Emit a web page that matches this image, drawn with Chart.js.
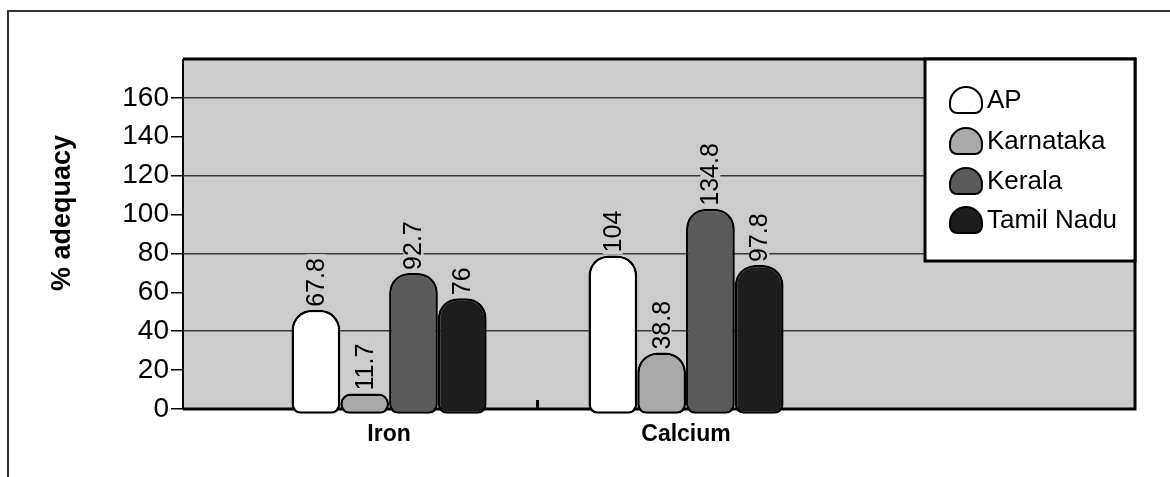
<!DOCTYPE html>
<html>
<head>
<meta charset="utf-8">
<script src="https://cdn.jsdelivr.net/npm/chart.js@4.4.0/dist/chart.umd.min.js"></script>
<style>
  html, body { margin: 0; padding: 0; background: #fff; }
  #wrap { position: relative; width: 1170px; height: 477px; overflow: hidden; }
  #frame { position: absolute; left: 7px; top: 10px; width: 1300px; height: 600px;
           border-left: 2px solid #333; border-top: 2px solid #333; }
  canvas { position: absolute; left: 0; top: 0; }
</style>
</head>
<body>
<div id="wrap">
  <div id="frame"></div>
  <canvas id="chart" width="1170" height="477"></canvas>
</div>
<script>
// Categories and series.
const nutrients = ['Iron', 'Calcium'];
const states = ['AP', 'Karnataka', 'Kerala', 'Tamil Nadu'];

// Bar heights as drawn in the picture.
const apHeights = [51, 79];
const karnatakaHeights = [8, 29];
const keralaHeights = [70, 103];
const tamilNaduHeights = [57, 74];

// Values printed on top of the bars.
const apLabels = ['67.8', '104'];
const karnatakaLabels = ['11.7', '38.8'];
const keralaLabels = ['92.7', '134.8'];
const tamilNaduLabels = ['76', '97.8'];

const yTickValues = [0, 20, 40, 60, 80, 100, 120, 140, 160];

const fills = ['#ffffff', '#a9a9a9', '#5b5b5b', '#1d1d1d'];
const regular = '"Liberation Sans", Arial, sans-serif';

const heights = [apHeights, karnatakaHeights, keralaHeights, tamilNaduHeights];
const printed = [apLabels, karnatakaLabels, keralaLabels, tamilNaduLabels];

const datasets = states.map((s, i) => ({
  label: s,
  data: heights[i].map((v, j) => ({ x: j + 1, y: v })),
  backgroundColor: fills[i],
  borderColor: '#000',
  borderWidth: 2.5,
  borderSkipped: false,
  borderRadius: { topLeft: 20, topRight: 20, bottomLeft: 9, bottomRight: 9 },
  base: -2.5,
  clip: false,
  barPercentage: 1.0,
  categoryPercentage: 0.657
}));

// Grey plot area, its frame and the y axis title.
const plotFrame = {
  id: 'plotFrame',
  beforeDraw(chart) {
    const { ctx, chartArea: a } = chart;
    ctx.save();
    ctx.fillStyle = '#cccccc';
    ctx.fillRect(a.left, a.top, a.right - a.left, a.bottom - a.top);
    ctx.restore();
  },
  beforeDatasetsDraw(chart) {
    const { ctx, chartArea: a, scales } = chart;
    ctx.save();
    ctx.strokeStyle = '#000';
    ctx.lineWidth = 3;
    ctx.beginPath();
    ctx.moveTo(a.left, a.top);
    ctx.lineTo(a.right, a.top);
    ctx.lineTo(a.right, a.bottom);
    ctx.lineTo(a.left, a.bottom);
    ctx.stroke();
    ctx.lineWidth = 2;
    ctx.beginPath();
    ctx.moveTo(a.left, a.top);
    ctx.lineTo(a.left, a.bottom);
    ctx.stroke();
    // divider tick between the two categories
    const xMid = scales.x.getPixelForValue(1.5);
    ctx.lineWidth = 3;
    ctx.beginPath();
    ctx.moveTo(xMid, a.bottom);
    ctx.lineTo(xMid, a.bottom - 9);
    ctx.stroke();
    // y axis title
    ctx.translate(63, 213);
    ctx.rotate(-Math.PI / 2);
    ctx.font = 'bold 27px ' + regular;
    ctx.fillStyle = '#000';
    ctx.textAlign = 'center';
    ctx.textBaseline = 'middle';
    ctx.fillText('% adequacy', 0, 0);
    ctx.restore();
  }
};

// Rotated values above each bar, and the legend box.
const labelsAndLegend = {
  id: 'labelsAndLegend',
  afterDatasetsDraw(chart) {
    const { ctx, chartArea: a } = chart;
    ctx.save();
    ctx.font = '25px ' + regular;
    chart.data.datasets.forEach((ds, i) => {
      chart.getDatasetMeta(i).data.forEach((bar, j) => {
        const txt = printed[i][j];
        const w = ctx.measureText(txt).width;
        ctx.save();
        ctx.translate(bar.x, bar.y - 3);
        ctx.rotate(-Math.PI / 2);
        ctx.fillStyle = '#cccccc';
        ctx.fillRect(-2, -10, w + 6, 20);
        ctx.fillStyle = '#000';
        ctx.textAlign = 'left';
        ctx.textBaseline = 'middle';
        ctx.fillText(txt, 0, 1);
        ctx.restore();
      });
    });

    // legend
    const lx = a.right - 210, ly = a.top, lw = 210, lh = 202;
    ctx.fillStyle = '#fff';
    ctx.fillRect(lx, ly, lw, lh);
    ctx.strokeStyle = '#000';
    ctx.lineWidth = 3;
    ctx.strokeRect(lx, ly, lw, lh);
    const rows = [41, 82, 122, 161];
    ctx.font = '26px ' + regular;
    ctx.textBaseline = 'middle';
    ctx.textAlign = 'left';
    chart.data.datasets.forEach((ds, i) => {
      const cy = ly + rows[i];
      ctx.beginPath();
      ctx.roundRect(lx + 25, cy - 13, 32, 26, [16, 16, 7, 7]);
      ctx.fillStyle = ds.backgroundColor;
      ctx.fill();
      ctx.lineWidth = 2;
      ctx.strokeStyle = '#000';
      ctx.stroke();
      ctx.fillStyle = '#000';
      ctx.fillText(ds.label, lx + 62, cy + 1);
    });
    ctx.restore();
  }
};

new Chart(document.getElementById('chart'), {
  type: 'bar',
  data: { datasets },
  options: {
    responsive: false,
    animation: false,
    devicePixelRatio: 1,
    layout: { padding: { top: 59, right: 35, left: 0, bottom: 0 } },
    plugins: { legend: { display: false }, tooltip: { enabled: false } },
    scales: {
      x: {
        type: 'linear',
        offset: false,
        min: 0.306,
        max: 3.512,
        afterBuildTicks: (scale) => { scale.ticks = nutrients.map((n, i) => ({ value: i + 1 })); },
        afterFit: (scale) => { scale.height = 68; },
        grid: { display: false, drawTicks: false, offset: false },
        border: { display: false },
        ticks: {
          padding: 12,
          color: '#000',
          maxRotation: 0,
          autoSkip: false,
          font: { family: regular, size: 23, weight: 'bold' },
          callback: (v) => nutrients[v - 1]
        }
      },
      y: {
        min: 0,
        max: 180,
        afterBuildTicks: (scale) => { scale.ticks = yTickValues.map((v) => ({ value: v })); },
        afterFit: (scale) => { scale.width = 183; },
        grid: {
          color: (c) => (c.tick && c.tick.value > 0 && c.tick.value % 40 === 0) ? '#3a3a3a' : 'rgba(0,0,0,0)',
          tickColor: '#000',
          tickLength: 12,
          lineWidth: 1.5
        },
        border: { display: false },
        ticks: {
          padding: 2,
          color: '#000',
          font: { family: regular, size: 28 }
        }
      }
    }
  },
  plugins: [plotFrame, labelsAndLegend]
});
</script>
</body>
</html>
